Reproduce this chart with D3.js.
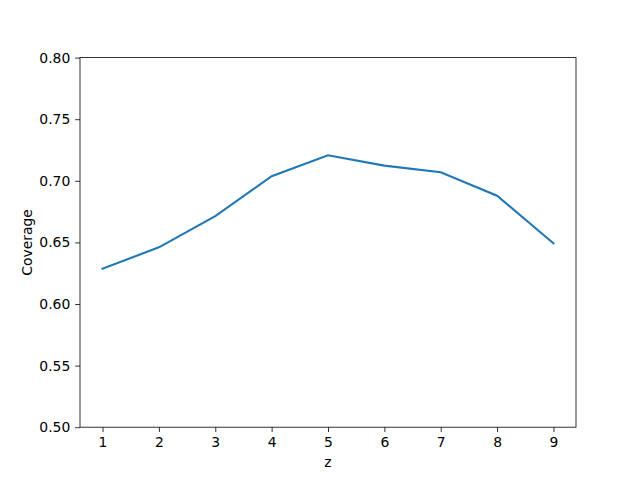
<!DOCTYPE html>
<html>
<head>
<meta charset="utf-8">
<script src="https://cdn.jsdelivr.net/npm/d3@7"></script>
<style>
  body { margin: 0; background: #fff; }
  text { font-family: "DejaVu Sans", sans-serif; }
</style>
</head>
<body>
<div id="chart"></div>
<script>
// data
var zValues = [1, 2, 3, 4, 5, 6, 7, 8, 9];
var coverage = [0.6287, 0.6460, 0.6714, 0.7037, 0.7207, 0.7123, 0.7069, 0.6879, 0.6493];
var yTicks = [0.50, 0.55, 0.60, 0.65, 0.70, 0.75, 0.80];

var width = 640, height = 480;
var margin = { left: 80, right: 64, top: 57.6, bottom: 52.8 };

var svg = d3.select("#chart")
    .append("svg")
    .attr("width", width)
    .attr("height", height);

var x = d3.scaleLinear()
    .domain([0.6, 9.4])
    .range([margin.left, width - margin.right]);

var y = d3.scaleLinear()
    .domain([0.5, 0.8])
    .range([height - margin.bottom, margin.top]);

// x axis
var xAxis = svg.append("g")
    .attr("transform", "translate(0," + (height - margin.bottom) + ")")
    .call(d3.axisBottom(x).tickValues(zValues).tickFormat(d3.format("d"))
        .tickSize(4.86).tickPadding(4.86));

// y axis
var yAxis = svg.append("g")
    .attr("transform", "translate(" + margin.left + ",0)")
    .call(d3.axisLeft(y).tickValues(yTicks).tickFormat(d3.format(".2f"))
        .tickSize(4.86).tickPadding(4.86));

[xAxis, yAxis].forEach(function(a) {
    a.select(".domain").remove();
    a.selectAll("line").attr("stroke", "#000").attr("stroke-width", 0.8);
    a.selectAll("text")
        .attr("fill", "#000")
        .style("font-size", "13.9px")
        .style("font-family", "DejaVu Sans, sans-serif");
});

// frame
svg.append("rect")
    .attr("x", margin.left)
    .attr("y", margin.top)
    .attr("width", width - margin.left - margin.right)
    .attr("height", height - margin.top - margin.bottom)
    .attr("fill", "none")
    .attr("stroke", "#000")
    .attr("stroke-width", 0.8);

// line
var line = d3.line()
    .x(function(d, i) { return x(zValues[i]); })
    .y(function(d) { return y(d); });

svg.append("path")
    .datum(coverage)
    .attr("d", line)
    .attr("fill", "none")
    .attr("stroke", "#1f77b4")
    .attr("stroke-width", 2.08)
    .attr("stroke-linecap", "square");

// labels
svg.append("text")
    .attr("x", (margin.left + width - margin.right) / 2)
    .attr("y", 467)
    .attr("text-anchor", "middle")
    .style("font-size", "13.9px")
    .text("z");

svg.append("text")
    .attr("transform", "translate(32," + ((margin.top + height - margin.bottom) / 2) + ") rotate(-90)")
    .attr("text-anchor", "middle")
    .style("font-size", "13.9px")
    .text("Coverage");
</script>
</body>
</html>
